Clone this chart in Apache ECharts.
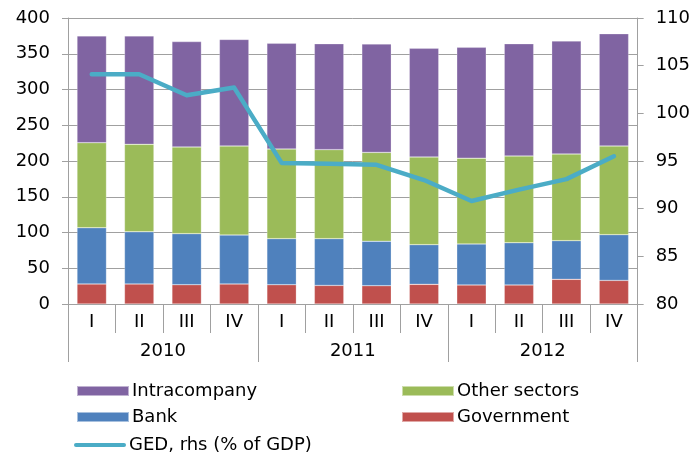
<!DOCTYPE html>
<html lang="en">
<head>
<meta charset="UTF-8">
<title>External debt</title>
<script src="https://cdn.jsdelivr.net/npm/echarts@6/dist/echarts.min.js"></script>
<style>
  html, body { margin: 0; padding: 0; background: #fff; }
  #chart { width: 693px; height: 455px; }
</style>
</head>
<body>
<div id="chart"></div>
<script>
var quarters = ['I', 'II', 'III', 'IV', 'I', 'II', 'III', 'IV', 'I', 'II', 'III', 'IV'];
var years = ['2010', '2011', '2012'];

var government = [28, 28, 27, 28, 27, 26, 25.6, 27.5, 26.6, 26.6, 34.5, 33];
var bank = [78.7, 73, 71.4, 68.5, 64.4, 65.4, 62.1, 55.5, 57.4, 59.1, 54.1, 64];
var otherSectors = [118.9, 122.3, 121.2, 124.5, 125.4, 124.5, 124.3, 122.6, 120, 121.3, 121.2, 124];
var intracompany = [149.4, 151.7, 147.4, 149, 147.8, 148.1, 151.6, 152, 155, 157, 158, 157];
var ged = [104.1, 104.1, 101.9, 102.7, 94.8, 94.7, 94.6, 93.0, 90.8, 92.0, 93.1, 95.5];

var font = 'DejaVu Sans';
var fsize = 18;
var gridGrey = '#a0a0a0';

function bar(name, data, color) {
  return {
    name: name,
    type: 'bar',
    stack: 'debt',
    barCategoryGap: '38%',
    data: data,
    itemStyle: { color: color, borderColor: 'rgba(255,255,255,0.5)', borderWidth: 0.5 }
  };
}

function legendAt(name, left, top, isLine) {
  return {
    data: [{ name: name, icon: isLine ? 'path://M2,0 L50,0 A2,2 0 0 1 50,4 L2,4 A2,2 0 0 1 2,0 Z' : 'rect' }],
    left: left,
    top: top,
    padding: 0,
    itemWidth: 52,
    itemHeight: isLine ? 5 : 10,
    selectedMode: false,
    textStyle: { fontFamily: font, fontSize: fsize, color: '#000', padding: [0, 0, 0, -2] }
  };
}

var chart = echarts.init(document.getElementById('chart'));
chart.setOption({
  animation: false,
  grid: { left: 68, right: 55, top: 18, bottom: 151 },
  legend: [
    legendAt('Intracompany', 76, 382),
    legendAt('Other sectors', 401, 382),
    legendAt('Bank', 76, 408),
    legendAt('Government', 401, 408),
    legendAt('GED, rhs (% of GDP)', 74, 436, true)
  ],
  xAxis: [
    {
      type: 'category',
      data: quarters,
      position: 'bottom',
      axisLine: { show: true, lineStyle: { color: gridGrey } },
      axisTick: { show: true, interval: 0, length: 29, lineStyle: { color: gridGrey } },
      axisLabel: { interval: 0, margin: 9, fontFamily: font, fontSize: fsize, color: '#000' }
    },
    {
      type: 'category',
      data: years,
      position: 'bottom',
      axisLine: { show: false },
      axisTick: { show: true, interval: 0, length: 58, lineStyle: { color: gridGrey } },
      axisLabel: { interval: 0, margin: 38, fontFamily: font, fontSize: fsize, color: '#000' }
    }
  ],
  yAxis: [
    {
      type: 'value',
      min: 0,
      max: 400,
      interval: 50,
      axisLine: { show: true, lineStyle: { color: gridGrey } },
      axisTick: { show: true, length: 6, lineStyle: { color: gridGrey } },
      splitLine: { show: true, lineStyle: { color: gridGrey } },
      axisLabel: { margin: 18, fontFamily: font, fontSize: fsize, color: '#000' }
    },
    {
      type: 'value',
      min: 80,
      max: 110,
      interval: 5,
      position: 'right',
      axisLine: { show: true, lineStyle: { color: gridGrey } },
      axisTick: { show: true, length: 6, lineStyle: { color: gridGrey } },
      splitLine: { show: false },
      axisLabel: { margin: 18, fontFamily: font, fontSize: fsize, color: '#000' }
    }
  ],
  series: [
    bar('Government', government, '#c0504d'),
    bar('Bank', bank, '#4f81bd'),
    bar('Other sectors', otherSectors, '#9bbb59'),
    bar('Intracompany', intracompany, '#8064a2'),
    {
      name: 'GED, rhs (% of GDP)',
      type: 'line',
      yAxisIndex: 1,
      data: ged,
      symbol: 'none',
      lineStyle: { color: '#4bacc6', width: 4.5, cap: 'round', join: 'round' },
      itemStyle: { color: '#4bacc6' },
      z: 5
    }
  ]
});
</script>
</body>
</html>
